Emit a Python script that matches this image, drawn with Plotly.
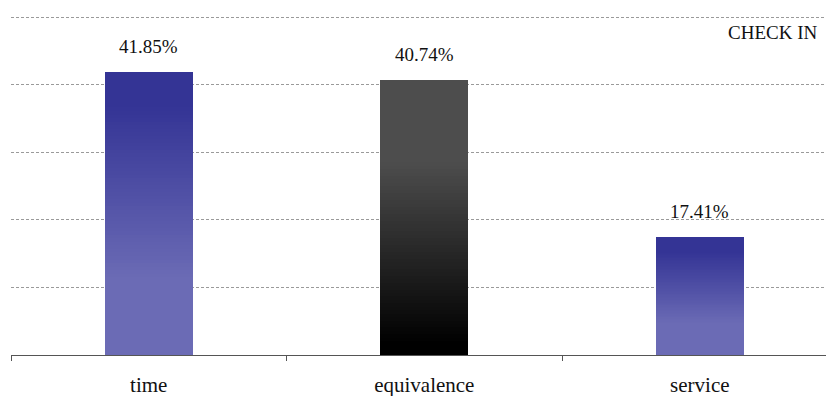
import plotly.graph_objects as go

categories = ["time", "equivalence", "service"]
values = [41.85, 40.74, 17.41]
labels = ["41.85%", "40.74%", "17.41%"]
title_text = "CHECK IN"

# gradient styles per bar (bottom color, top color, start/end fraction of height)
blue_grad = ((107, 107, 181), (52, 52, 149), 0.27, 0.88)
gray_grad = ((0, 0, 0), (77, 77, 77), 0.04, 0.70)
bar_grads = [blue_grad, gray_grad, blue_grad]

SERIF = "Liberation Serif, Times New Roman, serif"
N = 80

def grad_color(g, t):
    c0, c1, s, e = g
    if t <= s:
        f = 0.0
    elif t >= e:
        f = 1.0
    else:
        f = (t - s) / (e - s)
    r, gg, b = (round(c0[k] + (c1[k] - c0[k]) * f) for k in range(3))
    return f"rgb({r},{gg},{b})"

fig = go.Figure()
for i in range(N):
    t = (i + 0.5) / N
    fig.add_trace(go.Bar(
        x=categories,
        y=[v / N for v in values],
        base=[v * i / N for v in values],
        width=0.32,
        marker=dict(color=[grad_color(g, t) for g in bar_grads], line=dict(width=0)),
        hoverinfo="skip",
        showlegend=False,
    ))

for c, v, lab in zip(categories, values, labels):
    fig.add_annotation(x=c, y=v, text=lab, showarrow=False, yanchor="bottom",
                       yshift=13, font=dict(family=SERIF, size=19, color="#111"))

fig.add_annotation(xref="paper", yref="paper", x=0.9915, y=0.945, xanchor="right", yanchor="middle",
                   text=title_text, showarrow=False,
                   font=dict(family=SERIF, size=19, color="#111"))

fig.update_layout(
    width=826, height=396,
    margin=dict(l=11, r=0, t=14, b=41),
    paper_bgcolor="white", plot_bgcolor="white",
    barmode="overlay", bargap=0,
    xaxis=dict(type="category", range=[-0.5, 2.458], showline=True, linecolor="#555", linewidth=1,
               ticks="outside", tickson="boundaries", ticklen=5, tickcolor="#555",
               ticklabelstandoff=11,
               showgrid=False, tickfont=dict(family=SERIF, size=21, color="#111")),
    yaxis=dict(range=[0, 50.45], dtick=10, showgrid=True, gridcolor="#9a9a9a", gridwidth=1,
               griddash="3px,2px", showticklabels=False, zeroline=False, showline=False, ticks=""),
)

fig.write_html("out.html", config={"displayModeBar": False},
               post_script="document.body.style.margin='0';")
